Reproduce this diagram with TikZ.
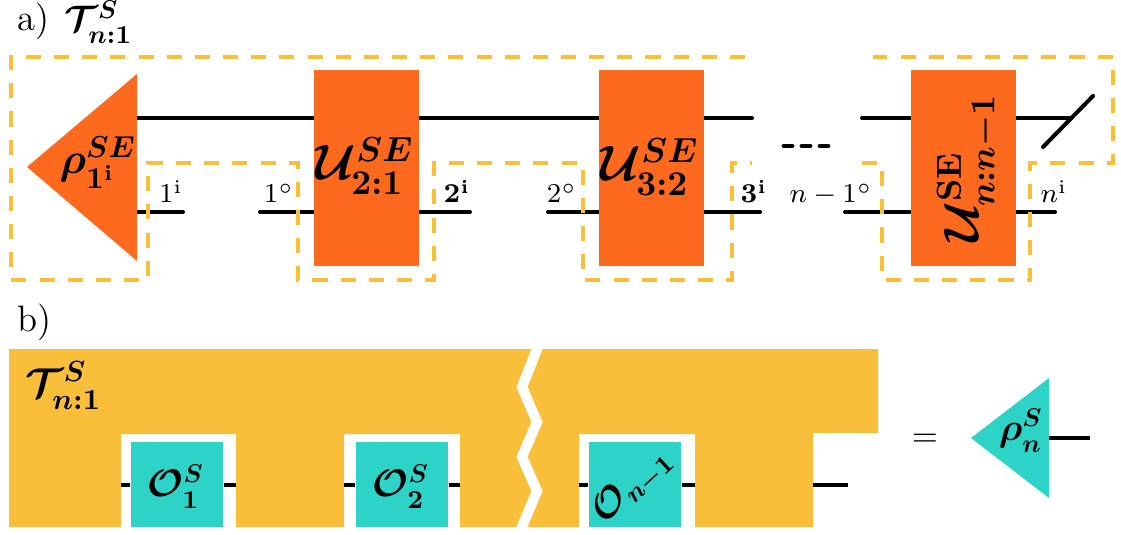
\RequirePackage{fix-cm}
\documentclass[tikz,border=0pt]{standalone}
\usepackage{amsmath}
\usetikzlibrary{calc}
\definecolor{orng}{RGB}{253,106,29}
\definecolor{ylw}{RGB}{249,190,58}
\definecolor{tl}{RGB}{45,211,198}
\pgfdeclarelayer{bg}
\pgfsetlayers{bg,main}
\begin{document}
\begin{tikzpicture}[x=0.3125pt,y=-0.3125pt,
  wire/.style={line width=1.25pt, line cap=round},
  bwire/.style={line width=1.25pt},
  ubox/.style={fill=orng, draw=none, minimum width=32.8pt, minimum height=61.25pt, inner sep=0pt},
  obox/.style={fill=tl, draw=none, minimum width=28.75pt, minimum height=26.56pt, inner sep=0pt},
  dashbox/.style={draw=ylw, line width=1.25pt, dash pattern=on 4.7pt off 4.1pt},
  lbl/.style={font=\fontsize{8.5}{10}\selectfont, anchor=base, inner sep=0pt},
  blbl/.style={font=\fontsize{8.5}{10}\selectfont\boldmath, anchor=base, inner sep=0pt},
  ulbl/.style={font=\fontsize{15.5}{18}\selectfont\boldmath, inner sep=0pt},
  olbl/.style={font=\fontsize{12}{14}\selectfont\boldmath, inner sep=0pt},
  panel/.style={font=\fontsize{11.5}{13}\selectfont, anchor=base west, inner sep=0pt}
]
\useasboundingbox (0,0) rectangle (1121,534);

% ---------------- panel a ----------------
\node[panel] (la) at (17,31) {a)};
\node[font=\fontsize{11.5}{13}\selectfont\boldmath, anchor=base west, inner sep=0pt] (Ta) at (64,32) {$\mathcal{T}^S_{n:1}$};

\fill[orng] (27,167) -- (137,74) -- (137,261) -- cycle;
\coordinate (rt) at (137,118);
\coordinate (rb) at (137,212);
\node[font=\fontsize{13.5}{16}\selectfont\boldmath, inner sep=0pt] (rho) at (98,163) {$\rho^{SE}_{1^{\mathrm{i}}}$};

\node[ubox] (U1) at (366.5,168) {};
\node[ubox] (U2) at (651.5,168) {};
\node[ubox] (U3) at (963,168) {};
\node[ulbl] (u1l) at (365,166) {$\mathcal{U}^{SE}_{2:1}$};
\node[ulbl] (u2l) at (650,167) {$\mathcal{U}^{SE}_{3:2}$};
\node[ulbl, rotate=90] (u3l) at (968,168) {$\mathcal{U}^{\mathrm{SE}}_{n:n-1}$};

\coordinate (te) at (752,118);
\coordinate (ts) at (862,118);
\coordinate (tx) at (1070,118);
\coordinate (s1) at (1043,147);
\coordinate (s2) at (1093,96);
\coordinate (b1) at (183,212);
\coordinate (b2) at (260,212);
\coordinate (b3) at (470,212);
\coordinate (b4) at (548,212);
\coordinate (b5) at (760,212);
\coordinate (b6) at (845,212);
\coordinate (b7) at (1055,212);

\begin{pgfonlayer}{bg}
\draw[wire] (rt) -- (rt -| U1.west);
\draw[wire] (U1.east |- rt) -- (U2.west |- rt);
\draw[wire] (U2.east |- rt) -- (te);
\draw[wire] (ts) -- (ts -| U3.west);
\draw[wire] (U3.east |- ts) -- (tx);
\draw[wire] (rb) -- (b1);
\draw[wire] (b2) -- (b2 -| U1.west);
\draw[wire] (U1.east |- b2) -- (b3);
\draw[wire] (b4) -- (b4 -| U2.west);
\draw[wire] (U2.east |- b4) -- (b5);
\draw[wire] (b6) -- (b6 -| U3.west);
\draw[wire] (U3.east |- b6) -- (b7);
\end{pgfonlayer}
\draw[wire] (s1) -- (s2);

% dots
\foreach \cx in {788,806,824} \draw[line width=1.5pt, line cap=round] (\cx-4,146) -- (\cx+4,146);

% small labels
\node[lbl]  (l1i) at (171,203) {$1^{\mathrm{i}}$};
\node[lbl]  (l1o) at (279,203) {$1^{\circ}$};
\node[blbl] (l2i) at (457,203) {$2^{\mathrm{i}}$};
\node[lbl]  (l2o) at (562,203) {$2^{\circ}$};
\node[blbl] (l3i) at (754,203) {$3^{\mathrm{i}}$};
\node[lbl]  (lno) at (831,203) {$n-1^{\circ}$};
\node[lbl]  (lni) at (1054,203) {$n^{\mathrm{i}}$};

% dashed comb outline
\draw[dashbox] (745,57) -- (11,57) -- (11,280) -- (148,280) -- (148,163) -- (298,163) -- (298,280) -- (434,280) -- (434,163) -- (583,163) -- (583,280) -- (732,280) -- (732,163) -- (752,163);
\draw[dashbox] (862,163) -- (882,163) -- (882,280) -- (1030,280) -- (1030,163) -- (1113,163) -- (1113,57) -- (873,57);

% ---------------- panel b ----------------
\node[panel] (lb) at (17,331) {b)};
\fill[ylw] (9,349) -- (878,349) -- (878,433) -- (813,433) -- (813,527) -- (695,527) -- (695,434) -- (579,434) -- (579,527) -- (460,527) -- (460,434) -- (344,434) -- (344,527) -- (236,527) -- (236,434) -- (121,434) -- (121,527) -- (9,527) -- cycle;
\draw[white, line width=3.2pt, line join=miter] (538.6,345) -- (522,387) -- (537,422) -- (522,457) -- (537,491) -- (520.3,531);
\node[font=\fontsize{13}{16}\selectfont\boldmath, anchor=base west, inner sep=0pt] (Tb) at (25,397) {$\mathcal{T}^S_{n:1}$};

\node[obox] (O1) at (177,484.5) {};
\node[obox] (O2) at (402,484.5) {};
\node[obox] (O3) at (635,484.5) {};
\node[olbl] (o1l) at (176,487) {$\mathcal{O}^S_1$};
\node[olbl] (o2l) at (401,487) {$\mathcal{O}^S_2$};
\node[olbl, rotate=43] (o3l) at (633,486) {$\mathcal{O}_{n-1}$};

\coordinate (w1) at (121,484.5);
\coordinate (w2) at (236,484.5);
\coordinate (w3) at (344,484.5);
\coordinate (w4) at (460,484.5);
\coordinate (w5) at (579,484.5);
\coordinate (w6) at (695,484.5);
\coordinate (w7) at (813,484.5);
\coordinate (w8) at (848,484.5);
\draw[bwire] (w1) -- (O1.west);
\draw[bwire] (O1.east) -- (w2);
\draw[bwire] (w3) -- (O2.west);
\draw[bwire] (O2.east) -- (w4);
\draw[bwire] (w5) -- (O3.west);
\draw[bwire] (O3.east) -- (w6);
\draw[bwire] (w7) -- (w8);

\node[font=\fontsize{10.5}{12}\selectfont, inner sep=0pt] (eq) at (925,440) {$=$};
\fill[tl] (971,438) -- (1049,378) -- (1049,498) -- cycle;
\coordinate (rs) at (1049,438);
\coordinate (re) at (1090,438);
\draw[bwire] (rs) -- (re);
\node[olbl] (rhon) at (1021,431) {$\rho^S_n$};
\end{tikzpicture}
\end{document}
